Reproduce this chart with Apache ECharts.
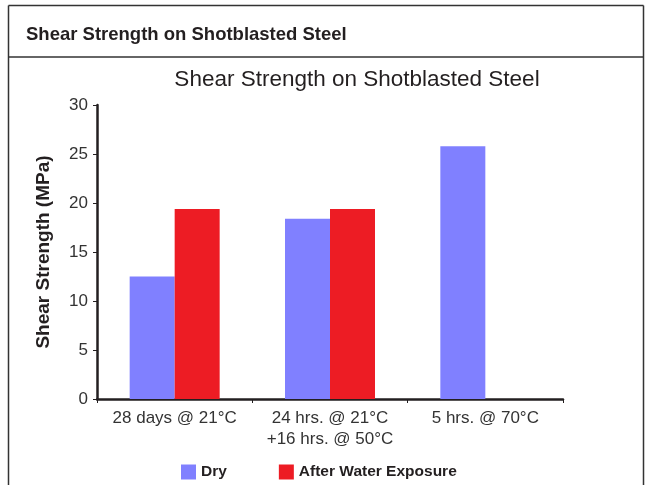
<!DOCTYPE html>
<html>
<head>
<meta charset="utf-8">
<script src="https://cdn.jsdelivr.net/npm/echarts@6/dist/echarts.min.js"></script>
<style>
  html, body { margin: 0; padding: 0; background: #fff; }
  #chart { width: 651px; height: 485px; }
</style>
</head>
<body>
<div id="chart"></div>
<script>
// data
var categories = ['28 days @ 21°C', '24 hrs. @ 21°C\n+16 hrs. @ 50°C', '5 hrs. @ 70°C'];
var dryValues = [12.5, 18.4, 25.8];
var wetValues = [19.4, 19.4, '-'];
var seriesNames = ['Dry', 'After Water Exposure'];

var chart = echarts.init(document.getElementById('chart'), null, { renderer: 'canvas' });

var axisColor = '#231f20';
var labelFont = 'Liberation Sans, Arial, sans-serif';

var option = {
  backgroundColor: '#fff',
  animation: false,
  title: {
    text: 'Shear Strength on Shotblasted Steel',
    left: 352,
    top: 63,
    textAlign: 'center',
    textStyle: { fontFamily: labelFont, fontSize: 22.5, fontWeight: 'normal', color: '#231f20' }
  },
  legend: {
    data: seriesNames,
    bottom: 0,
    left: 176,
    itemWidth: 15,
    itemHeight: 15,
    itemGap: 52,
    icon: 'rect',
    textStyle: {
      fontFamily: labelFont,
      fontSize: 15.5, fontWeight: 'bold', color: '#231f20'
    }
  },
  grid: { left: 97, right: 88, top: 105, bottom: 86 },
  xAxis: {
    type: 'category',
    data: categories,
    axisLine: { lineStyle: { color: axisColor, width: 2.5 } },
    axisTick: { show: true, inside: false, length: 4, lineStyle: { color: axisColor } },
    axisLabel: { interval: 0, hideOverlap: false, fontFamily: labelFont, fontSize: 17, color: '#333', margin: 9, lineHeight: 21 }
  },
  yAxis: {
    type: 'value',
    min: 0,
    max: 30,
    interval: 5,
    name: 'Shear Strength (MPa)',
    nameLocation: 'middle',
    nameGap: 44,
    nameTextStyle: { fontFamily: labelFont, fontSize: 19, fontWeight: 'bold', color: '#231f20' },
    axisLine: { show: true, lineStyle: { color: axisColor, width: 2.5 } },
    axisTick: { show: true, length: 4, lineStyle: { color: axisColor } },
    axisLabel: { fontFamily: labelFont, fontSize: 17, color: '#333', margin: 9 },
    splitLine: { show: false }
  },
  series: [
    {
      name: seriesNames[0],
      type: 'bar',
      data: dryValues,
      barWidth: 45,
      barGap: '0%',
      itemStyle: { color: '#8080ff' }
    },
    {
      name: seriesNames[1],
      type: 'bar',
      data: wetValues,
      barWidth: 45,
      itemStyle: { color: '#ed1c24' }
    }
  ],
  graphic: [
    // frame around the figure
    { type: 'line', shape: { x1: 8.5, y1: 5.5, x2: 643.5, y2: 5.5 }, style: { stroke: '#333', lineWidth: 1.5 } },
    { type: 'line', shape: { x1: 8.5, y1: 5.5, x2: 8.5, y2: 485 }, style: { stroke: '#333', lineWidth: 1.5 } },
    { type: 'line', shape: { x1: 643.5, y1: 5.5, x2: 643.5, y2: 485 }, style: { stroke: '#333', lineWidth: 1.5 } },
    { type: 'line', shape: { x1: 8.5, y1: 57, x2: 643.5, y2: 57 }, style: { stroke: '#333', lineWidth: 1.5 } },
    {
      type: 'text', left: 26, top: 25,
      style: {
        text: 'Shear Strength on Shotblasted Steel',
        font: 'bold 18.5px Liberation Sans, Arial, sans-serif',
        fill: '#231f20'
      }
    }
  ]
};

chart.setOption(option);
</script>
</body>
</html>
